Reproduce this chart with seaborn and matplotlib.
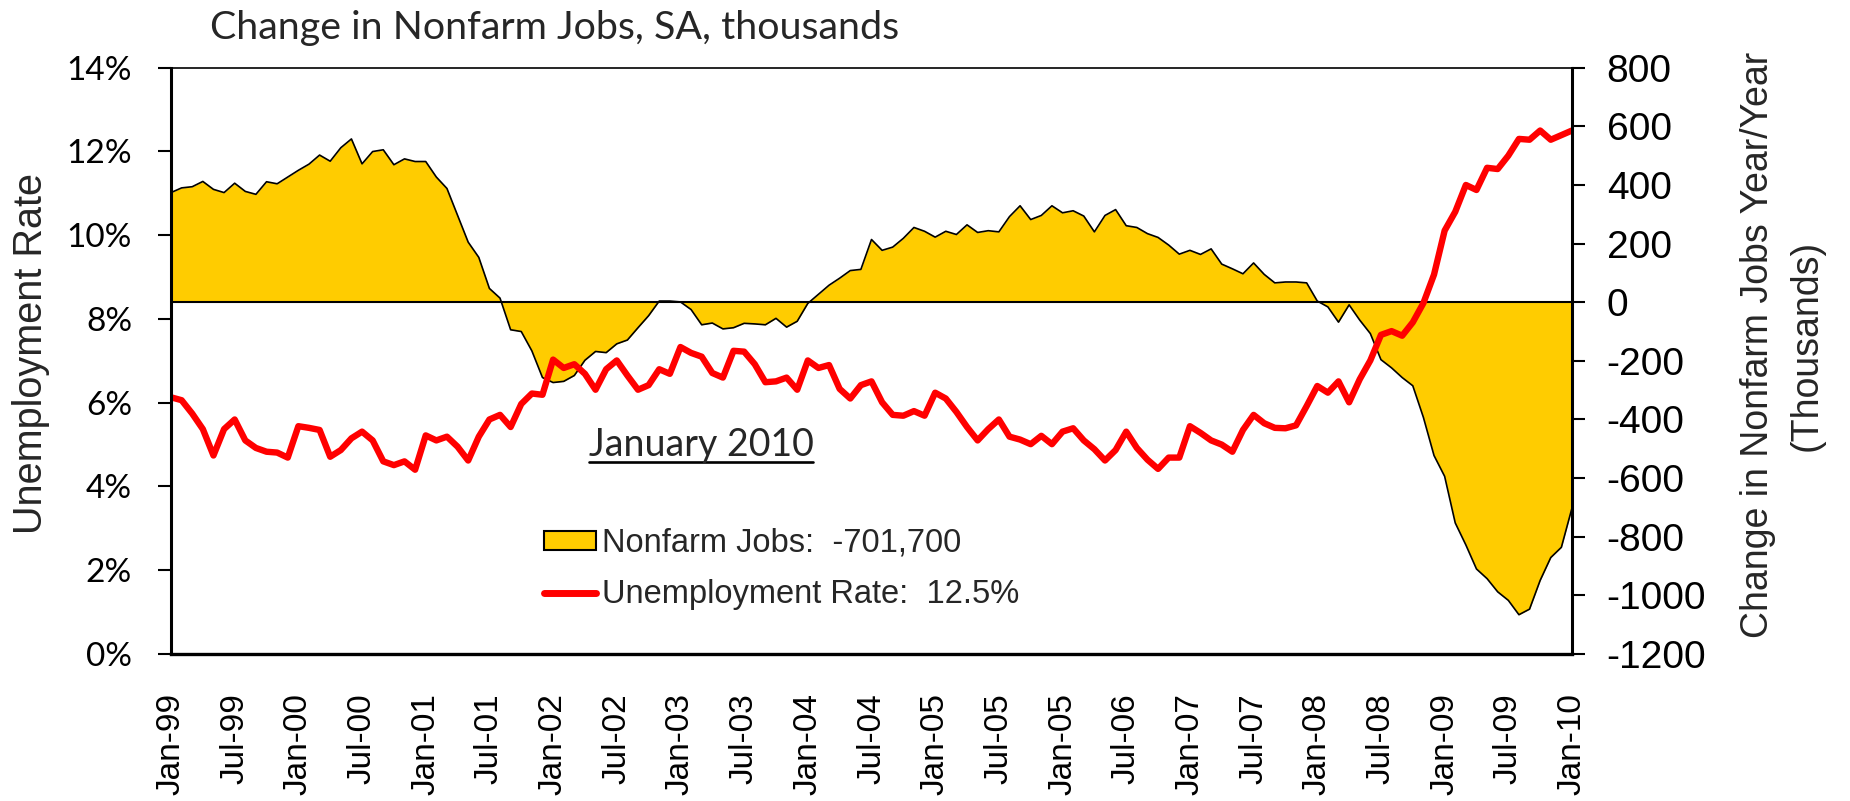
import numpy as np
import pandas as pd
import matplotlib
matplotlib.use("Agg")
import matplotlib.pyplot as plt
import seaborn as sns
from matplotlib.patches import Patch
from matplotlib.lines import Line2D

# ---------------- data ----------------
tick_labels = ["Jan-99", "Jul-99", "Jan-00", "Jul-00", "Jan-01", "Jul-01", "Jan-02", "Jul-02",
               "Jan-03", "Jul-03", "Jan-04", "Jul-04", "Jan-05", "Jul-05", "Jan-05", "Jul-06",
               "Jan-07", "Jul-07", "Jan-08", "Jul-08", "Jan-09", "Jul-09", "Jan-10"]

# Change in nonfarm jobs, year/year, thousands (monthly Jan-99 .. Jan-10)
jobs = [374, 390, 394, 412, 385, 374, 406, 378, 368, 411,
        404, 427, 450, 471, 502, 481, 527, 557, 472, 514,
        520, 469, 489, 480, 480, 427, 388, 296, 205, 153,
        47, 14, -94, -100,
        -166, -257, -274, -270, -250, -198, -168, -172, -142, -129,
        -87, -46, 4, 4, 1, -25, -77, -71, -91, -87,
        -72, -74, -77, -55, -85, -65, -4, 27, 58, 82,
        108, 112, 214,
        177, 188, 218, 255, 242, 222, 242, 231, 264, 238,
        244, 240, 292, 329, 282, 296, 329, 305, 312, 294,
        240, 296, 316, 261, 255, 234, 221, 195, 164, 177,
        163, 182, 130,
        114, 97, 134, 95, 66, 69, 69, 66, 4, -16,
        -68, -9, -61, -107, -196, -224, -257, -285, -393, -523,
        -594, -753, -828, -910, -943, -988, -1017, -1066, -1047, -949,
        -871, -836, -702]

# Unemployment rate, %
unemp = [6.13, 6.06, 5.74, 5.37, 4.74, 5.37, 5.60, 5.10, 4.92, 4.83,
         4.81, 4.69, 5.44, 5.40, 5.35, 4.71, 4.87, 5.15, 5.31, 5.10,
         4.60, 4.51, 4.60, 4.40, 5.22, 5.10, 5.19, 4.95, 4.62, 5.19,
         5.60, 5.71, 5.42, 5.97,
         6.22, 6.19, 7.03, 6.83, 6.92, 6.69, 6.31, 6.80, 7.01, 6.65,
         6.31, 6.42, 6.80, 6.69, 7.33, 7.19, 7.10, 6.71, 6.60, 7.24,
         7.22, 6.92, 6.49, 6.51, 6.60, 6.31, 7.01, 6.83, 6.90, 6.33,
         6.10, 6.42, 6.51,
         6.01, 5.71, 5.69, 5.80, 5.69, 6.24, 6.10, 5.78, 5.42, 5.10,
         5.37, 5.60, 5.19, 5.12, 5.01, 5.21, 5.01, 5.31, 5.39, 5.10,
         4.89, 4.62, 4.87, 5.31, 4.92, 4.64, 4.42, 4.69, 4.69, 5.44,
         5.28, 5.10, 5.00,
         4.83, 5.35, 5.71, 5.51, 5.40, 5.39, 5.46, 5.92, 6.40, 6.24,
         6.51, 6.01, 6.56, 7.01, 7.62, 7.71, 7.60, 7.92, 8.38, 9.06,
         10.11, 10.56, 11.20, 11.08, 11.61, 11.58, 11.90, 12.30, 12.28, 12.50,
         12.28, 12.39, 12.50]

left_ticks = [0, 2, 4, 6, 8, 10, 12, 14]
right_ticks = [-1200, -1000, -800, -600, -400, -200, 0, 200, 400, 600, 800]

title = "Change in Nonfarm Jobs, SA, thousands"
left_label = "Unemployment Rate"
right_label = "Change in Nonfarm Jobs Year/Year\n(Thousands)"
note = "January 2010"
legend_labels = ["Nonfarm Jobs:  -701,700", "Unemployment Rate:  12.5%"]

# ---------------- style ----------------
YEL = "#FFCC00"
RED = "#FF0000"
sns.set_theme(style="white")
plt.rcParams['font.family'] = ['Liberation Sans', 'DejaVu Sans']
CAL_FONT = ['Lato', 'DejaVu Sans']

months = np.arange(len(jobs))
df = pd.DataFrame({"month": months, "jobs": jobs, "unemp": unemp})

W, H = 1850, 801
fig = plt.figure(figsize=(W / 100, H / 100), dpi=100)
rect = [171 / W, 1 - 654 / H, (1572 - 171) / W, (654 - 67.7) / H]
ax = fig.add_axes(rect)
ax2 = ax.twinx()
ax.set_zorder(ax2.get_zorder() + 1)
ax.patch.set_visible(False)

# area (right axis)
ax2.fill_between(df["month"], df["jobs"], 0, color=YEL, lw=0, zorder=1)
ax2.plot(df["month"], df["jobs"], color="black", lw=1.2, zorder=2)
ax2.axhline(0, color="black", lw=1.5, zorder=3)

# unemployment line (left axis)
sns.lineplot(data=df, x="month", y="unemp", ax=ax, color=RED, linewidth=4.6,
             legend=False, solid_joinstyle="round", solid_capstyle="round")

ax.set_xlim(0, len(jobs) - 1)
ax.set_ylim(0, 14)
ax2.set_ylim(-1200, 800)

ax.set_xticks(np.arange(0, len(jobs), 6))
ax.set_xticklabels(tick_labels, rotation=90, fontsize=24)
ax.tick_params(axis="x", length=0, pad=28, colors="black")
ax.set_xlabel("")
ax.set_ylabel("")

ax.set_yticks(left_ticks)
ax.set_yticklabels([f"{v}%" for v in left_ticks], fontsize=24, family=CAL_FONT)
ax.tick_params(axis="y", left=True, direction="out", length=9.5, width=1.5,
               color="black", pad=18.5, labelcolor="black")

ax2.set_yticks(right_ticks)
ax2.set_yticklabels([str(v) for v in right_ticks], fontsize=28)
ax2.tick_params(axis="y", right=True, direction="out", length=9, width=1.5,
                color="black", pad=16, labelcolor="black")

for s in ax2.spines.values():
    s.set_visible(False)
for name, s in ax.spines.items():
    s.set_visible(True)
    s.set_color("black")
ax.spines["left"].set_linewidth(2.2)
ax.spines["right"].set_linewidth(2.2)
ax.spines["bottom"].set_linewidth(2.4)
ax.spines["top"].set_linewidth(1.2)

# axis labels
fig.text(31 / W, 1 - 300 * 1.18 / H, left_label, rotation=90, ha="center", va="center", fontsize=28.5)
fig.text(1782 / W, 1 - 345 / H, right_label, rotation=90, ha="center", va="center",
         fontsize=27, linespacing=1.45, multialignment="center")

# title
fig.text(210 / W, 1 - 39 / H, title, ha="left", va="baseline", fontsize=28.4, family=CAL_FONT)

# note with underline
t = fig.text(701 / W, 1 - 456 / H, note, ha="center", va="baseline", fontsize=27, family=CAL_FONT)
fig.canvas.draw()
bb = t.get_window_extent(renderer=fig.canvas.get_renderer())
inv = fig.transFigure.inverted()
(x0, _), (x1, _) = inv.transform([(bb.x0, 0), (bb.x1, 0)])
uy = 1 - 462 / H
fig.add_artist(Line2D([x0, x1], [uy, uy], transform=fig.transFigure, color="black", lw=1.9))

# legend
handles = [Patch(facecolor=YEL, edgecolor="black", linewidth=1.5),
           Line2D([0], [0], color=RED, linewidth=5, solid_capstyle="round")]
fig.legend(handles, legend_labels, loc="upper left", bbox_to_anchor=(544 / W, 1 - 528 / H),
           frameon=False, fontsize=23.5, handlelength=1.6, handleheight=0.5,
           handletextpad=0.18, labelspacing=0.62, borderpad=0, borderaxespad=0)

fig.savefig("out.png", dpi=100, facecolor="white")
